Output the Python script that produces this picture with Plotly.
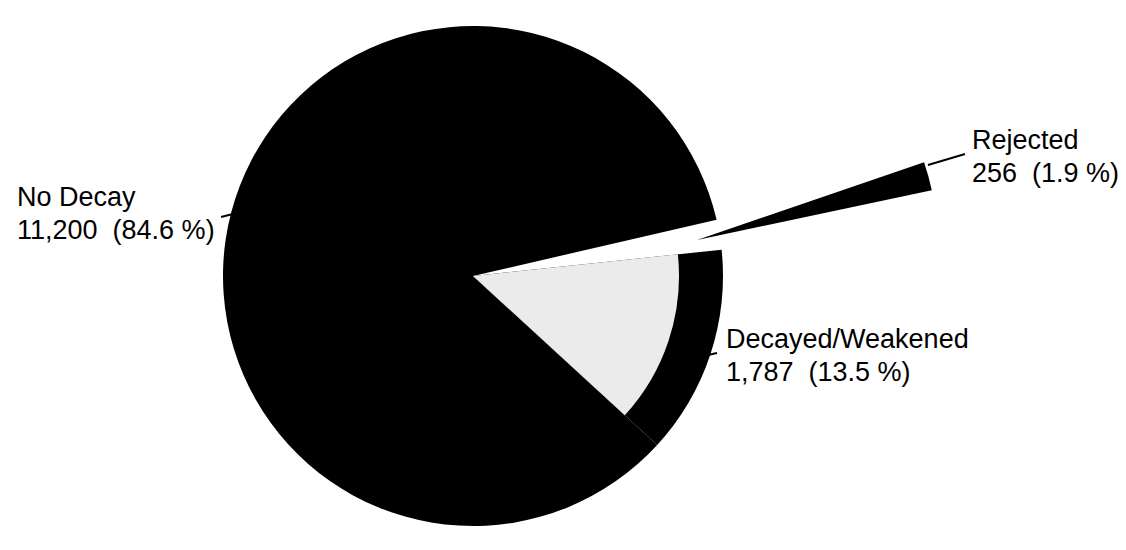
import plotly.graph_objects as go

# ---- data ----
categories = ["Rejected", "Decayed/Weakened", "No Decay"]
counts = [256, 1787, 11200]
percents = [1.9, 13.5, 84.6]

W, H = 1126, 550

def px_dom(cx, cy, half_w, half_h):
    return dict(x=[(cx - half_w) / W, (cx + half_w) / W],
                y=[1 - (cy + half_h) / H, 1 - (cy - half_h) / H])

common = dict(labels=categories, values=counts, sort=False, direction="clockwise",
              textinfo="none", hoverinfo="label+value+percent", showlegend=False)

CX, CY, R = 473, 276, 250

# main pie (black); the rejected slice is exploded and drawn separately
main = go.Pie(**common, rotation=77,
              marker=dict(colors=["rgba(0,0,0,0)", "#000000", "#000000"], line=dict(width=0)),
              domain=px_dom(CX, CY, R, R))

# light top face of the decayed slice
face = go.Pie(**common, rotation=77,
              marker=dict(colors=["rgba(0,0,0,0)", "#ebebeb", "rgba(0,0,0,0)"], line=dict(width=0)),
              domain=px_dom(CX, CY, 206, 206))

# exploded rejected slice
spike = go.Pie(**common, rotation=71.1,
               marker=dict(colors=["#000000", "rgba(0,0,0,0)", "rgba(0,0,0,0)"], line=dict(width=0)),
               domain=px_dom(697, 240, 240, 240))

fig = go.Figure([main, face, spike])

# label line positions (left x, centre y of each line)
label_pos = {"No Decay": (16, 197, 230),
             "Rejected": (971, 140, 173),
             "Decayed/Weakened": (725, 339, 372)}
leaders = {"No Decay": ((221, 217), (245, 211)),
           "Rejected": ((928, 165), (965, 154)),
           "Decayed/Weakened": ((690, 359), (717, 353))}

font = dict(family="Arial, Liberation Sans, sans-serif", size=27, color="#000000")
annotations = []
shapes = []
for cat, n, p in zip(categories, counts, percents):
    x, y1, y2 = label_pos[cat]
    for txt, yy in ((cat, y1), (f"{n:,}\u00a0 ({p}\u00a0%)", y2)):
        annotations.append(dict(
            x=x / W, y=1 - yy / H, xref="paper", yref="paper", xanchor="left", yanchor="middle",
            align="left", showarrow=False, text=txt, font=font, borderpad=0))
    (x0, y0), (x1, y1_) = leaders[cat]
    shapes.append(dict(type="line", xref="paper", yref="paper",
                       x0=x0 / W, y0=1 - y0 / H, x1=x1 / W, y1=1 - y1_ / H,
                       line=dict(color="#000000", width=2)))

fig.update_layout(width=W, height=H, margin=dict(l=0, r=0, t=0, b=0),
                  paper_bgcolor="white", plot_bgcolor="white",
                  annotations=annotations, shapes=shapes)

fig.write_html("out.html")
